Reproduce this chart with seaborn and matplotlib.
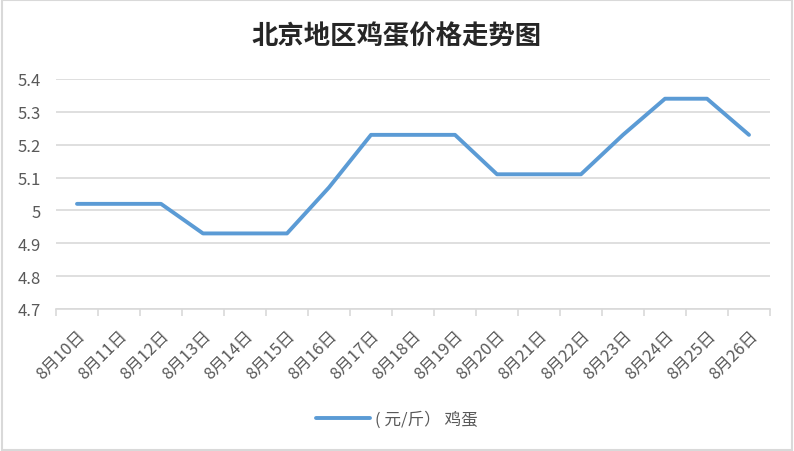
import numpy as np
import pandas as pd
import matplotlib.pyplot as plt
import seaborn as sns
from matplotlib.patches import Rectangle

dates = ["8月10日", "8月11日", "8月12日", "8月13日", "8月14日", "8月15日",
         "8月16日", "8月17日", "8月18日", "8月19日", "8月20日", "8月21日",
         "8月22日", "8月23日", "8月24日", "8月25日", "8月26日"]
price = [5.02, 5.02, 5.02, 4.93, 4.93, 4.93, 5.07, 5.23, 5.23, 5.23,
         5.11, 5.11, 5.11, 5.23, 5.34, 5.34, 5.23]
y_ticks = [4.7, 4.8, 4.9, 5.0, 5.1, 5.2, 5.3, 5.4]
y_labels = ["4.7", "4.8", "4.9", "5", "5.1", "5.2", "5.3", "5.4"]

df = pd.DataFrame({"pos": np.arange(len(dates)), "price": price})

sns.set_theme(style="white")
plt.rcParams["font.family"] = ["Noto Sans CJK SC", "DejaVu Sans"]

fig = plt.figure(figsize=(7.94, 4.52), dpi=100)
ax = fig.add_axes([56 / 794, 1 - 310 / 452, (770 - 56) / 794, 230 / 452])

sns.lineplot(data=df, x="pos", y="price", ax=ax, color="#5B9BD5",
             linewidth=2.8, label="( 元/斤） 鸡蛋")

ax.set_xlim(-0.5, len(dates) - 0.5)
ax.set_ylim(4.7, 5.4)
ax.set_yticks(y_ticks)
ax.set_yticklabels(y_labels, fontsize=12, color="#595959")
ax.set_xticks(np.arange(len(dates)))
ax.set_xticklabels(dates, rotation=45, ha="right", rotation_mode="anchor",
                   fontsize=12, color="#595959")
ax.set_xticks(np.arange(-0.5, len(dates)), minor=True)
ax.tick_params(axis="x", which="major", length=0, pad=13)
ax.tick_params(axis="x", which="minor", length=5, width=1.2, color="#D9D9D9",
               direction="out", bottom=True)
ax.tick_params(axis="y", length=0, pad=11)
ax.yaxis.grid(True, color="#D9D9D9", linewidth=1.2)
ax.set_xlabel("")
ax.set_ylabel("")
for s in ["top", "right", "left"]:
    ax.spines[s].set_visible(False)
ax.spines["bottom"].set_color("#D9D9D9")
ax.spines["bottom"].set_linewidth(1.2)

fig.text(0.5, 1 - 37 / 452, "北京地区鸡蛋价格走势图", ha="center", va="center",
         fontsize=19, fontweight="bold", color="#262626")

ax.legend(loc="center", bbox_to_anchor=(0.5, 1 - 420 / 452),
          bbox_transform=fig.transFigure, frameon=False, fontsize=12,
          labelcolor="#595959", handlelength=3.2, handletextpad=0.3)

fig.patches.append(Rectangle((0.002, 0.003), 0.995, 0.994, transform=fig.transFigure,
                             fill=False, edgecolor="#D9D9D9", linewidth=1.5))

fig.savefig("out.png", dpi=100)
